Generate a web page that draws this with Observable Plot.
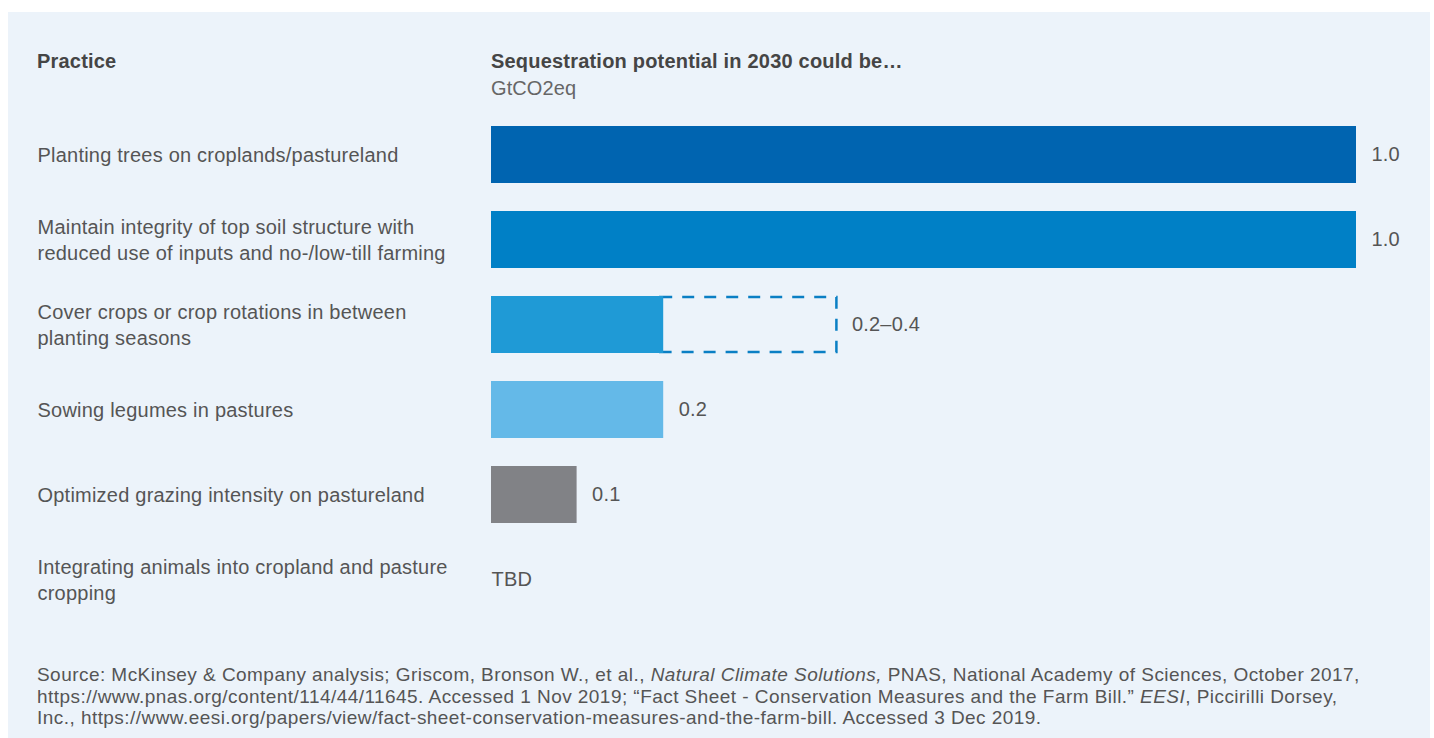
<!DOCTYPE html>
<html>
<head>
<meta charset="utf-8">
<script src="https://cdn.jsdelivr.net/npm/d3@7"></script>
<script src="https://cdn.jsdelivr.net/npm/@observablehq/plot@0.6"></script>
<style>
  html, body { margin: 0; padding: 0; background: #ffffff; }
  body { width: 1434px; height: 738px; overflow: hidden; position: relative;
         font-family: "Liberation Sans", Arial, Helvetica, sans-serif; }
  #panel { position: absolute; left: 8px; top: 12px; width: 1422px; height: 726px; background: #ecf3fa; }
  .hdr { position: absolute; font-size: 20px; line-height: 22px; color: #454545; white-space: nowrap; letter-spacing: 0.2px; }
  .unit { position: absolute; font-size: 20px; line-height: 22px; color: #666; letter-spacing: 0.1px; }
  #chart { position: absolute; left: 0; top: 85px; }
  #chart text { letter-spacing: 0.22px; }
  #caption { position: absolute; left: 29px; top: 652px; font-size: 19px; line-height: 21.5px; color: #555; white-space: nowrap; letter-spacing: 0.45px; }
</style>
</head>
<body>
<div id="panel">
  <div class="hdr" style="left:29px; top:38px; font-weight:600;">Practice</div>
  <div class="hdr" style="left:483px; top:38px; font-weight:700;">Sequestration potential in 2030 could be…</div>
  <div class="unit" style="left:483px; top:65px;">GtCO2eq</div>
  <div id="chart"></div>
  <div id="caption">Source: McKinsey &amp; Company analysis; Griscom, Bronson W., et al., <i>Natural Climate Solutions,</i> PNAS, National Academy of Sciences, October 2017,<br>https://www.pnas.org/content/114/44/11645. Accessed 1 Nov 2019; “Fact Sheet - Conservation Measures and the Farm Bill.” <i>EESI</i>, Piccirilli Dorsey,<br>Inc., https://www.eesi.org/papers/view/fact-sheet-conservation-measures-and-the-farm-bill. Accessed 3 Dec 2019.</div>
</div>
<script>
const practices = [
  "Planting trees on croplands/pastureland",
  "Maintain integrity of top soil structure with\nreduced use of inputs and no-/low-till farming",
  "Cover crops or crop rotations in between\nplanting seasons",
  "Sowing legumes in pastures",
  "Optimized grazing intensity on pastureland",
  "Integrating animals into cropland and pasture\ncropping"
];
const values = [1.0, 1.0, 0.2, 0.2, 0.1, null];
const rangeHigh = [null, null, 0.4, null, null, null];
const valueLabels = ["1.0", "1.0", "0.2–0.4", "0.2", "0.1", "TBD"];

const barColors = ["#0064b0", "#0080c6", "#1f9ad6", "#64b9e8", "#818286", "#818286"];

const rows = practices.map((p, i) => ({
  practice: p,
  value: values[i],
  high: rangeHigh[i],
  label: valueLabels[i],
  labelX: rangeHigh[i] != null ? rangeHigh[i] : values[i]
}));
const withBar = rows.filter(d => d.value != null);
const noBar = rows.filter(d => d.value == null);

const chart = Plot.plot({
  width: 1422,
  height: 539,
  marginLeft: 0,
  marginRight: 0,
  marginTop: 0,
  marginBottom: 0,
  style: { background: "transparent", fontFamily: "'Liberation Sans', Arial, sans-serif" },
  x: { domain: [0, 1], range: [483, 1349], axis: null },
  y: { domain: practices, padding: 0.33, axis: null },
  color: { domain: practices, range: barColors },
  marks: [
    Plot.barX(rows.filter(d => d.high != null), {
      x1: "value", x2: "high", y: "practice",
      fill: "none", stroke: "#0a7fc4", strokeWidth: 2.5, strokeDasharray: "12,10",
      insetTop: 1, insetBottom: 1, insetRight: 1, insetLeft: -4
    }),
    Plot.barX(withBar, {
      x1: 0, x2: "value", y: "practice", fill: "practice", insetRight: 1
    }),
    Plot.text(rows, {
      y: "practice", text: "practice", frameAnchor: "left", dx: 29,
      textAnchor: "start", fontSize: 20, lineHeight: 1.3, fill: "#555", dy: -1
    }),
    Plot.text(withBar, {
      x: "labelX", y: "practice", text: "label",
      dx: 14, textAnchor: "start", fontSize: 20, fill: "#555"
    }),
    Plot.text(noBar, {
      x: 0, y: "practice", text: "label",
      textAnchor: "start", fontSize: 20, fill: "#555"
    })
  ]
});
document.getElementById("chart").appendChild(chart);
</script>
</body>
</html>
